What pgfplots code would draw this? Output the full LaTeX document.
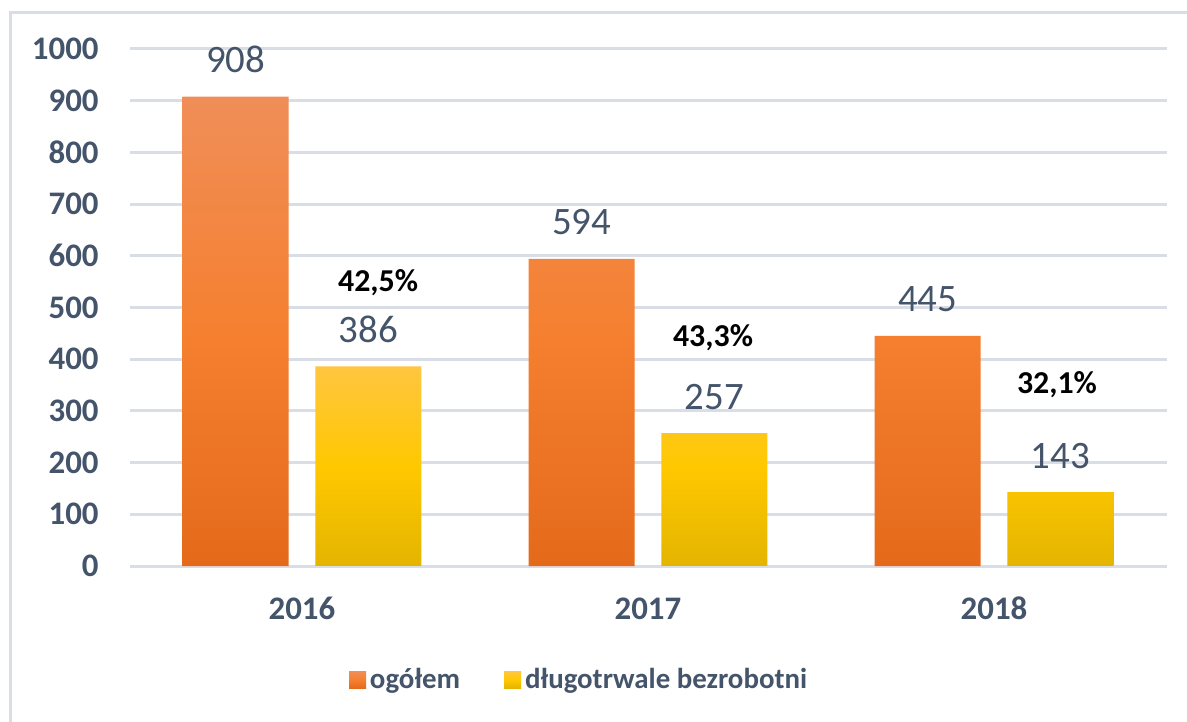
\documentclass[border=0pt]{standalone}
\usepackage{fontspec}
\setmainfont{Carlito}
\usepackage{pgfplots}
\pgfplotsset{compat=1.18}
\definecolor{txt}{HTML}{44546A}
\definecolor{gridc}{HTML}{D9DEE6}
\definecolor{o1}{RGB}{240,142,88}
\definecolor{o2}{RGB}{245,128,48}
\definecolor{o3}{RGB}{228,106,26}
\definecolor{y1}{RGB}{255,198,64}
\definecolor{y2}{RGB}{255,200,0}
\definecolor{y3}{RGB}{228,180,0}
\begin{document}
\begin{tikzpicture}
\useasboundingbox (0,0) rectangle (593.5bp,361bp);
\clip (0,0) rectangle (593.5bp,361bp);
\fill[white] (0,0) rectangle (593.5bp,361bp);
\draw[gridc, line width=1.5bp] (5bp,354.5bp) rectangle (640bp,-30bp);
\begin{axis}[
  at={(65bp,78bp)}, anchor=south west,
  scale only axis, width=518.5bp, height=258.5bp,
  xmin=-0.497, xmax=2.5, ymin=0, ymax=1000,
  axis line style={draw=none},
  ytick={0,100,...,1000}, xtick={0,1,2}, xticklabels={2016,2017,2018},
  major tick length=0pt, tick style={draw=none},
  ymajorgrids, grid style={gridc, line width=1.5bp},
  /pgf/number format/assume math mode=true,
  /pgf/number format/1000 sep={},
  yticklabel style={font=\fontsize{16.5}{18}\selectfont\bfseries, text=txt, anchor=east, inner sep=0pt, xshift=-15.5bp},
  xticklabel style={font=\fontsize{16.5}{18}\selectfont\bfseries, text=txt, anchor=base, inner sep=0pt, yshift=-26.5bp},
  ybar, bar width=53bp,
  nodes near coords,
  nodes near coords style={font=\fontsize{19.5}{21}\selectfont, text=txt, anchor=base, inner sep=0pt, yshift=12bp},
  clip=false,
  legend style={at={(0.434,-0.22)}, anchor=center, draw=none, fill=none, legend columns=2,
    font=\fontsize{14.5}{16}\selectfont\bfseries, text=txt,
    /tikz/every even column/.append style={column sep=20bp}},
]
\addplot[bar shift=-33.15bp, draw=none, top color=o1, bottom color=o3, middle color=o2,
  legend image code/.code={\path[top color=o1, bottom color=o3, middle color=o2, draw=none] (0bp,-4.25bp) rectangle (8.5bp,4.25bp);}]
  coordinates {(0,908) (1,594) (2,445)};
\addlegendentry{ogółem}
\addplot[bar shift=33.15bp, draw=none, top color=y1, bottom color=y3, middle color=y2,
  legend image code/.code={\path[top color=y1, bottom color=y3, middle color=y2, draw=none] (0bp,-4.25bp) rectangle (8.5bp,4.25bp);}]
  coordinates {(0,386) (1,257) (2,143)};
\addlegendentry{długotrwale bezrobotni}
\node[font=\fontsize{16}{18}\selectfont\bfseries, text=black] at (axis cs:0.22,549) {42,5\%};
\node[font=\fontsize{16}{18}\selectfont\bfseries, text=black] at (axis cs:1.188,441) {43,3\%};
\node[font=\fontsize{16}{18}\selectfont\bfseries, text=black] at (axis cs:2.182,350) {32,1\%};
\end{axis}
\end{tikzpicture}
\end{document}
